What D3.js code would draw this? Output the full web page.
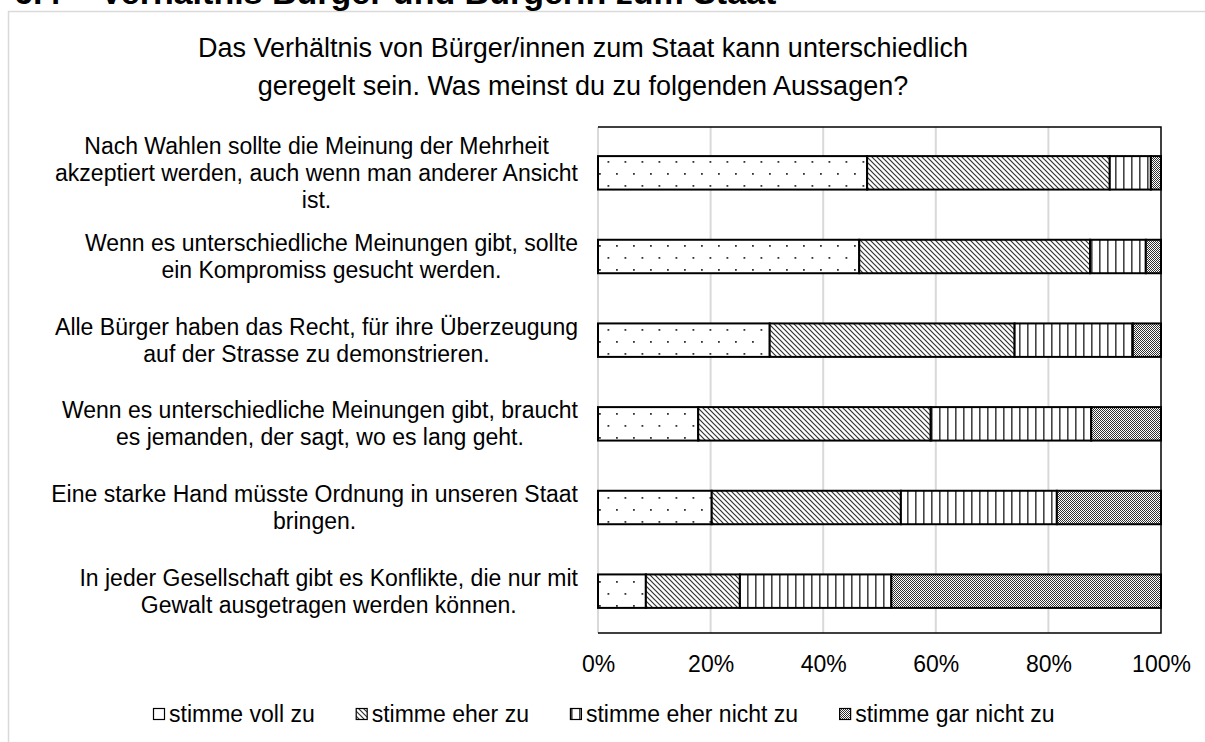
<!DOCTYPE html>
<html>
<head>
<meta charset="utf-8">
<script src="https://cdn.jsdelivr.net/npm/d3@7"></script>
<style>
  body { margin: 0; background: #fff; }
  svg { display: block; font-family: "Liberation Sans", Arial, sans-serif; }
</style>
</head>
<body>
<script>
// statements, one line per wrapped label line
const categories = [
  'Nach Wahlen sollte die Meinung der Mehrheit\nakzeptiert werden, auch wenn man anderer Ansicht\nist.',
  'Wenn es unterschiedliche Meinungen gibt, sollte\nein Kompromiss gesucht werden.',
  'Alle Bürger haben das Recht, für ihre Überzeugung\nauf der Strasse zu demonstrieren.',
  'Wenn es unterschiedliche Meinungen gibt, braucht\nes jemanden, der sagt, wo es lang geht.',
  'Eine starke Hand müsste Ordnung in unseren Staat\nbringen.',
  'In jeder Gesellschaft gibt es Konflikte, die nur mit\nGewalt ausgetragen werden können.'
];

const seriesNames = ['stimme voll zu', 'stimme eher zu', 'stimme eher nicht zu', 'stimme gar nicht zu'];

// percent of answers
const vollZu    = [47.8, 46.4, 30.5, 17.8, 20.2, 8.5];
const eherZu    = [43.1, 41.0, 43.5, 41.3, 33.6, 16.7];
const eherNicht = [7.3, 9.9, 21.0, 28.5, 27.7, 26.9];
const garNicht  = [1.8, 2.7, 5.0, 12.4, 18.5, 47.9];

const tickValues = [0, 20, 40, 60, 80, 100];
const tickLabels = ['0%', '20%', '40%', '60%', '80%', '100%'];

const heading = ['6.4', 'Verhältnis Bürger und Bürgerin zum Staat'];
const titleLines = ['Das Verhältnis von Bürger/innen zum Staat kann unterschiedlich',
                    'geregelt sein. Was meinst du zu folgenden Aussagen?'];

const width = 1205, height = 742;
const plotLeft = 598, plotRight = 1161, plotTop = 127, plotBottom = 633;

const svg = d3.select(document.body).append('svg')
  .attr('width', width)
  .attr('height', height);

// fill patterns (Excel style)
const defs = svg.append('defs');
const patternIds = ['p-voll', 'p-eher', 'p-nicht', 'p-gar'];

let p = defs.append('pattern').attr('id', 'p-voll').attr('patternUnits', 'userSpaceOnUse')
  .attr('width', 17).attr('height', 24);
p.append('rect').attr('width', 17).attr('height', 24).attr('fill', '#fff');
p.append('rect').attr('x', 4).attr('y', 5).attr('width', 1.8).attr('height', 1.8).attr('fill', '#333');
p.append('rect').attr('x', 12.5).attr('y', 17).attr('width', 1.8).attr('height', 1.8).attr('fill', '#333');

p = defs.append('pattern').attr('id', 'p-eher').attr('patternUnits', 'userSpaceOnUse')
  .attr('width', 5).attr('height', 5);
p.append('rect').attr('width', 5).attr('height', 5).attr('fill', '#fff');
p.append('path').attr('d', 'M0,0L5,5M-1,4L1,6M4,-1L6,1')
  .attr('stroke', '#333').attr('stroke-width', 1.2);

p = defs.append('pattern').attr('id', 'p-nicht').attr('patternUnits', 'userSpaceOnUse')
  .attr('width', 8).attr('height', 8);
p.append('rect').attr('width', 8).attr('height', 8).attr('fill', '#fff');
p.append('rect').attr('x', 3).attr('y', 0).attr('width', 1.6).attr('height', 8).attr('fill', '#444');

p = defs.append('pattern').attr('id', 'p-gar').attr('patternUnits', 'userSpaceOnUse')
  .attr('width', 2).attr('height', 2);
p.append('rect').attr('width', 2).attr('height', 2).attr('fill', '#fff');
p.append('rect').attr('x', 0).attr('y', 0).attr('width', 1).attr('height', 1).attr('fill', '#333');
p.append('rect').attr('x', 1).attr('y', 1).attr('width', 1).attr('height', 1).attr('fill', '#333');

// chart border + cut-off section heading (as in the source page)
svg.append('rect')
  .attr('x', 8.5).attr('y', 11.5)
  .attr('width', width).attr('height', height)
  .attr('fill', 'none').attr('stroke', '#d9d9d9').attr('stroke-width', 1.5);

svg.append('text').attr('x', 14).attr('y', 4)
  .style('font-size', '34px').style('font-weight', 'bold').text(heading[0]);
svg.append('text').attr('x', 100).attr('y', 4)
  .style('font-size', '34px').style('font-weight', 'bold').text(heading[1]);

svg.append('g').selectAll('text')
  .data(titleLines)
  .join('text')
    .attr('x', 583)
    .attr('y', (d, i) => 57 + i * 38)
    .attr('text-anchor', 'middle')
    .style('font-size', '27px')
    .text(d => d);

// scales
const x = d3.scaleLinear().domain([0, 100]).range([plotLeft, plotRight]);
const y = d3.scaleBand().domain(categories).range([131, plotBottom])
  .paddingInner(0.6).paddingOuter(0.3);

// gridlines
svg.append('g').selectAll('line')
  .data(tickValues.slice(0, -1))
  .join('line')
    .attr('x1', d => x(d)).attr('x2', d => x(d))
    .attr('y1', plotTop).attr('y2', plotBottom)
    .attr('stroke', '#d9d9d9').attr('stroke-width', 2);

// plot frame (top, right, bottom)
svg.append('path')
  .attr('d', `M${plotLeft},${plotTop}H${plotRight}V${plotBottom}H${plotLeft}`)
  .attr('fill', 'none').attr('stroke', '#000').attr('stroke-width', 1.5);

// stacked bars
const rows = categories.map((c, i) => ({
  cat: c, v0: vollZu[i], v1: eherZu[i], v2: eherNicht[i], v3: garNicht[i]
}));
const stacked = d3.stack().keys(['v0', 'v1', 'v2', 'v3'])(rows);

svg.append('g').selectAll('g')
  .data(stacked)
  .join('g')
    .attr('fill', (d, i) => `url(#${patternIds[i]})`)
  .selectAll('rect')
  .data(d => d)
  .join('rect')
    .attr('x', d => x(d[0]))
    .attr('width', d => x(d[1]) - x(d[0]))
    .attr('y', d => y(d.data.cat))
    .attr('height', y.bandwidth())
    .attr('stroke', '#000')
    .attr('stroke-width', 2);

// category labels: block right-aligned, lines centred inside it
const labelRight = 578;
categories.forEach(c => {
  const lines = c.split('\n');
  const cy = y(c) + y.bandwidth() / 2;
  const g = svg.append('g').style('font-size', '23px');
  const texts = g.selectAll('text')
    .data(lines)
    .join('text')
      .attr('y', (d, i) => cy + (i - (lines.length - 1) / 2) * 27)
      .attr('dy', '0.35em')
      .attr('text-anchor', 'middle')
      .text(d => d);
  let maxW = 0;
  texts.each(function() { maxW = Math.max(maxW, this.getComputedTextLength()); });
  texts.attr('x', labelRight - maxW / 2);
});

// x axis labels
const xAxis = svg.append('g')
  .attr('transform', `translate(0,${plotBottom})`)
  .call(d3.axisBottom(x)
    .tickValues(tickValues)
    .tickFormat((d, i) => tickLabels[i])
    .tickSize(0)
    .tickPadding(23));
xAxis.select('.domain').remove();
xAxis.selectAll('text')
  .style('font-size', '23px')
  .style('font-family', '"Liberation Sans", Arial, sans-serif')
  .attr('fill', '#000');

// legend
const legend = svg.append('g').style('font-size', '23px');
let lx = 153;
seriesNames.forEach((name, i) => {
  legend.append('rect')
    .attr('x', lx + 0.5).attr('y', 708.5)
    .attr('width', 11).attr('height', 11)
    .attr('fill', `url(#${patternIds[i]})`)
    .attr('stroke', '#000').attr('stroke-width', 1.2);
  const t = legend.append('text')
    .attr('x', lx + 16).attr('y', 722)
    .text(name);
  lx = lx + 16 + t.node().getComputedTextLength() + 41;
});
</script>
</body>
</html>
